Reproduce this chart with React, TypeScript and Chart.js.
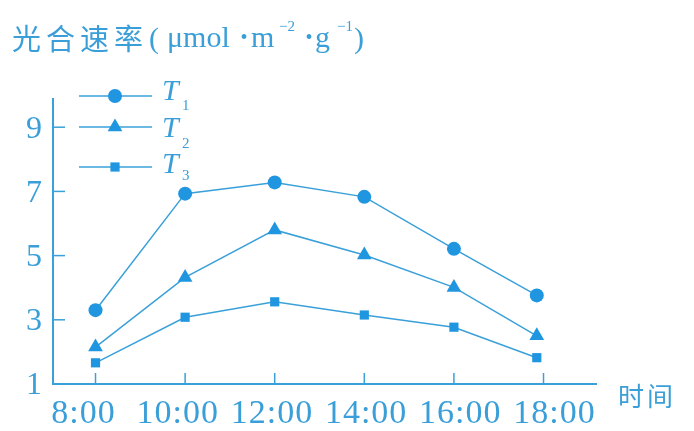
import React, { useEffect, useRef } from 'react';
import { Chart, registerables } from 'chart.js';
import { drawPoint } from 'chart.js/helpers';

Chart.register(...registerables);

// ---- data ----
const hours = [8, 10, 12, 14, 16, 17.85];
const xTickValues = [8, 10, 12, 14, 16, 18];
const xTickLabels = ['8:00', '10:00', '12:00', '14:00', '16:00', '18:00'];
const yTickValues = [1, 3, 5, 7, 9];
const seriesLetter = ['T', 'T', 'T'];
const seriesSub = ['1', '2', '3'];
const t1Values = [3.3, 6.93, 7.28, 6.83, 5.21, 3.76];
const t2Values = [2.15, 4.32, 5.8, 5.02, 4.01, 2.5];
const t3Values = [1.66, 3.08, 3.56, 3.15, 2.77, 1.82];
const titleCn = '光合速率';
const xAxisName = '时间';

const LINE = '#3aa0d9';
const MARK = '#2196e0';
const TEXT = '#3a9fd8';

const pointStyles = ['circle', 'triangle', 'rect'];
const pointRadii = [7, 8.5, 6.5];

const overlay = {
  id: 'overlay',
  afterDraw(chart: any) {
    const ctx: CanvasRenderingContext2D = chart.ctx;
    const { left, right, top, bottom } = chart.chartArea;
    const xs = chart.scales.x;
    const ys = chart.scales.y;
    const xl = chart.scales.xl;
    ctx.save();
    // axes
    ctx.strokeStyle = LINE;
    ctx.lineWidth = 2;
    ctx.beginPath();
    ctx.moveTo(left, top);
    ctx.lineTo(left, bottom);
    ctx.lineTo(right, bottom);
    ctx.stroke();
    ctx.lineWidth = 1.5;
    yTickValues.forEach((v) => {
      if (v === ys.min) return;
      const py = ys.getPixelForValue(v);
      ctx.beginPath();
      ctx.moveTo(left, py);
      ctx.lineTo(left + 12, py);
      ctx.stroke();
    });
    xTickValues.forEach((v) => {
      const px = xs.getPixelForValue(v);
      ctx.beginPath();
      ctx.moveTo(px, bottom);
      ctx.lineTo(px, bottom - 11);
      ctx.stroke();
    });

    // tick labels
    ctx.fillStyle = TEXT;
    ctx.font = '32px "Liberation Serif"';
    ctx.textAlign = 'right';
    ctx.textBaseline = 'middle';
    yTickValues.forEach((v) => {
      ctx.fillText(String(v), 42, ys.getPixelForValue(v) + 2);
    });
    ctx.font = '34px "Liberation Serif"';
    ctx.textAlign = 'center';
    ctx.textBaseline = 'alphabetic';
    (ctx as any).letterSpacing = '1px';
    xTickValues.forEach((v, i) => {
      ctx.fillText(xTickLabels[i], xl.getPixelForValue(v), 423);
    });
    (ctx as any).letterSpacing = '0px';

    // axis name
    ctx.textAlign = 'left';
    ctx.font = '26px "Noto Sans CJK SC"';
    (ctx as any).letterSpacing = '3px';
    ctx.fillText(xAxisName, 618, 406);

    // title
    ctx.font = '29px "Noto Sans CJK SC"';
    (ctx as any).letterSpacing = '5px';
    ctx.fillText(titleCn, 12, 50);
    (ctx as any).letterSpacing = '0px';
    ctx.font = '30px "Liberation Serif"';
    ctx.fillText('(', 149, 48);
    ctx.fillText('\u03bcmol', 167, 47);
    ctx.fillText('m', 251, 47);
    ctx.fillText('g', 315, 47);
    ctx.fillText(')', 354, 48);
    ctx.font = '20px "Liberation Serif"';
    ctx.textAlign = 'center';
    ctx.fillText('\u2022', 244, 44);
    ctx.fillText('\u2022', 309, 44);
    ctx.textAlign = 'left';
    ctx.font = '15px "Liberation Serif"';
    ctx.fillText('\u22122', 279, 31);
    ctx.fillText('\u22121', 337, 31);

    // legend
    const rowY = [96, 127, 167];
    const txtY = [100, 137, 173];
    const subY = [110, 148, 180];
    chart.data.datasets.forEach((ds: any, i: number) => {
      ctx.strokeStyle = LINE;
      ctx.lineWidth = 1.5;
      ctx.beginPath();
      ctx.moveTo(79, rowY[i]);
      ctx.lineTo(152, rowY[i]);
      ctx.stroke();
      ctx.fillStyle = MARK;
      drawPoint(ctx, { pointStyle: ds.pointStyle, radius: ds.pointRadius, rotation: 0, borderWidth: 0 } as any, 115, rowY[i]);
      ctx.fillStyle = TEXT;
      ctx.font = 'italic 30px "Liberation Serif"';
      ctx.fillText(seriesLetter[i], 162, txtY[i]);
      ctx.font = '15px "Liberation Serif"';
      ctx.fillText(seriesSub[i], 182, subY[i]);
    });
    ctx.restore();
  },
};

export default function App() {
  const ref = useRef<HTMLCanvasElement>(null);
  useEffect(() => {
    document.body.style.margin = '0';
    const seriesValues = [t1Values, t2Values, t3Values];
    const chart = new Chart(ref.current as HTMLCanvasElement, {
      type: 'line',
      data: {
        datasets: seriesValues.map((vals, i) => ({
          label: seriesLetter[i] + seriesSub[i],
          data: hours.map((h, j) => ({ x: h, y: vals[j] })),
          borderColor: LINE,
          borderWidth: 1.5,
          pointStyle: pointStyles[i] as any,
          pointRadius: pointRadii[i],
          pointBackgroundColor: MARK,
          pointBorderColor: MARK,
          pointBorderWidth: 0,
          tension: 0,
          clip: false as any,
        })),
      },
      options: {
        animation: false,
        responsive: false,
        layout: { padding: { left: 53, right: 97, top: 98, bottom: 47 } },
        plugins: { legend: { display: false }, tooltip: { enabled: false } },
        scales: {
          x: { type: 'linear', min: 7.051, max: 19.194, display: false },
          xl: { type: 'linear', min: 7.352, max: 18.902, display: false },
          y: { type: 'linear', min: 1, max: 9.91, display: false },
        },
      },
      plugins: [overlay],
    });
    return () => chart.destroy();
  }, []);
  return (
    <div style={{ width: 694, height: 431, background: '#fff' }}>
      <canvas ref={ref} width={694} height={431} style={{ display: 'block' }} />
    </div>
  );
}
